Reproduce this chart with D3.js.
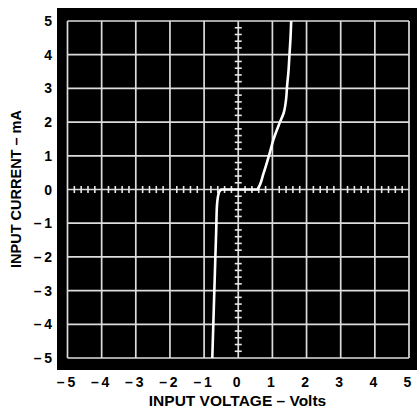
<!DOCTYPE html>
<html><head><meta charset="utf-8">
<script src="https://cdn.jsdelivr.net/npm/d3@7"></script>
<style>body{margin:0;background:#fff}svg{display:block}</style>
</head><body>
<svg id="c" width="417" height="409"></svg>
<script>
const xTicks = [-5,-4,-3,-2,-1,0,1,2,3,4,5];
const yTicks = [-5,-4,-3,-2,-1,0,1,2,3,4,5];
const xTickLabels = ["–\u20095","–\u20094","–\u20093","–\u20092","–\u20091","0","1","2","3","4","5"];
const yTickLabels = ["–\u20095","–\u20094","–\u20093","–\u20092","–\u20091","0","1","2","3","4","5"];
const voltage = [-0.76,-0.73,-0.70,-0.67,-0.645,-0.625,-0.60,-0.56,-0.52,-0.48,0,0.56,0.74,0.92,1.03,1.21,1.33,1.40,1.43,1.47,1.50,1.53,1.55];
const current = [-5,-4,-3,-2,-1.2,-0.5,-0.25,-0.08,-0.02,0,0,0,0.48,1.08,1.48,1.97,2.27,2.67,3.07,3.5,4,4.5,5];
const xTitle = "INPUT VOLTAGE – Volts";
const yTitle = "INPUT CURRENT – mA";

const svg = d3.select("#c");
const x = d3.scaleLinear().domain([-5,5]).range([67.5,409]);
const y = d3.scaleLinear().domain([-5,5]).range([358,21]);

svg.append("rect").attr("x",57).attr("y",8).attr("width",360).attr("height",362).attr("fill","#000");

const g = svg.append("g");
g.selectAll("line.vx").data(xTicks).join("line")
  .attr("x1",d=>x(d)).attr("x2",d=>x(d)).attr("y1",y(5)).attr("y2",y(-5))
  .attr("stroke","#dcdcdc").attr("stroke-width",1.7);
g.selectAll("line.hy").data(yTicks).join("line")
  .attr("y1",d=>y(d)).attr("y2",d=>y(d)).attr("x1",x(-5)).attr("x2",x(5))
  .attr("stroke","#dcdcdc").attr("stroke-width",1.7);

// minor ticks on centre axes
const minor = d3.range(-50,51,2).map(v=>v/10).filter(v=>Math.abs(v-Math.round(v))>1e-6);
g.selectAll("line.mx").data(minor).join("line")
  .attr("x1",d=>x(d)).attr("x2",d=>x(d)).attr("y1",y(0)-3.5).attr("y2",y(0)+3.5)
  .attr("stroke","#e8e8e8").attr("stroke-width",1.6);
g.selectAll("line.my").data(minor).join("line")
  .attr("y1",d=>y(d)).attr("y2",d=>y(d)).attr("x1",x(0)-3.5).attr("x2",x(0)+3.5)
  .attr("stroke","#e8e8e8").attr("stroke-width",1.6);

const pts = voltage.map((v,i)=>[v,current[i]]);
svg.append("path").datum(pts)
  .attr("d",d3.line().x(d=>x(d[0])).y(d=>y(d[1])).curve(d3.curveMonotoneY))
  .attr("fill","none").attr("stroke","#fff").attr("stroke-width",2.6);

const font = "'Liberation Sans', Arial, sans-serif";
svg.selectAll("text.xl").data(xTicks).join("text")
  .attr("x",d=>x(d)-1.5).attr("y",387).attr("text-anchor","middle")
  .attr("font-family",font).attr("font-weight","bold").attr("font-size",14)
  .text((d,i)=>xTickLabels[i]);
svg.selectAll("text.yl").data(yTicks).join("text")
  .attr("x",52).attr("y",d=>y(d)+5).attr("text-anchor","end")
  .attr("font-family",font).attr("font-weight","bold").attr("font-size",14)
  .text((d,i)=>yTickLabels[i]);

svg.append("text").attr("x",237.5).attr("y",405.5).attr("text-anchor","middle")
  .attr("font-family",font).attr("font-weight","bold").attr("font-size",15.5).text(xTitle);
svg.append("text").attr("transform","translate(21,189) rotate(-90)").attr("text-anchor","middle")
  .attr("font-family",font).attr("font-weight","bold").attr("font-size",14.5).text(yTitle);
</script>
</body></html>
